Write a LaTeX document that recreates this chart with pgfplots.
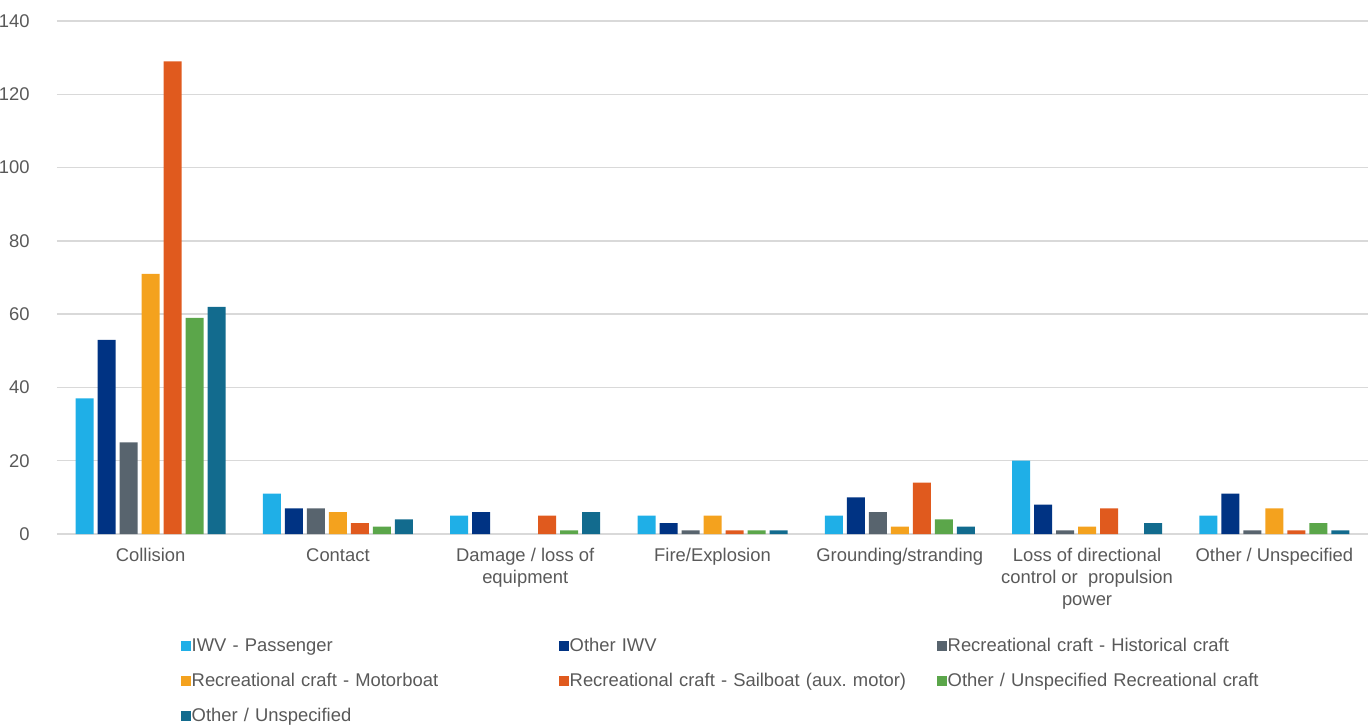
\documentclass[border=0pt]{standalone}
\usepackage{pgfplots}
\pgfplotsset{compat=1.18}
\usepackage{fontspec}
\setmainfont{Liberation Sans}
\frenchspacing
\definecolor{cA}{HTML}{1FAFE7}
\definecolor{cB}{HTML}{003383}
\definecolor{cC}{HTML}{58646E}
\definecolor{cD}{HTML}{F4A21E}
\definecolor{cE}{HTML}{E05A1E}
\definecolor{cF}{HTML}{5BA64A}
\definecolor{cG}{HTML}{126B8E}
\definecolor{txt}{HTML}{595959}
\definecolor{grd}{HTML}{D9D9D9}
\begin{document}
\begin{tikzpicture}
\path[use as bounding box] (-28.5pt,-95.5pt) rectangle (655.5pt,267pt);
\begin{axis}[
  at={(0pt,0pt)}, anchor=south west,
  scale only axis, width=655.5pt, height=256.5pt,
  xmin=-0.5, xmax=6.5, ymin=0, ymax=140,
  ytick={0,20,...,140},
  xtick={0,...,6},
  xticklabels={Collision, Contact, Damage / loss of\\equipment, Fire/Explosion, Grounding/stranding, Loss of directional\\control or\ \ propulsion\\power, Other / Unspecified},
  axis line style={draw=none},
  major tick length=0pt,
  ymajorgrids, grid style={grd, line width=0.75pt},
  font=\fontsize{9.2}{11}\selectfont,
  tick label style={txt, font=\fontsize{9.2}{11}\selectfont},
  /pgf/number format/assume math mode=true,
  yticklabel style={anchor=east, inner sep=0pt, xshift=-13.5pt},
  xticklabel style={anchor=north, inner sep=0pt, yshift=-7pt, align=center},
  ybar=2pt, bar width=9pt,
  every axis plot/.append style={draw=none},
  legend columns=3,
  legend cell align=left,
  legend style={draw=none, fill=none, at={(0.0895,-0.1765)}, anchor=north west,
    font=\fontsize{9.2}{11}\selectfont\frenchspacing, text=txt,
    nodes={text width=183pt, align=left, inner xsep=0.5pt, inner ysep=0pt, minimum height=17.5pt},
    column sep=0pt, row sep=0pt},
  legend image code/.code={\fill[#1] (0pt,-2.5pt) rectangle (5pt,2.5pt);},
]
\addplot[fill=cA] coordinates {(0,37) (1,11) (2,5) (3,5) (4,5) (5,20) (6,5)};
\addplot[fill=cB] coordinates {(0,53) (1,7) (2,6) (3,3) (4,10) (5,8) (6,11)};
\addplot[fill=cC] coordinates {(0,25) (1,7) (3,1) (4,6) (5,1) (6,1)};
\addplot[fill=cD] coordinates {(0,71) (1,6) (3,5) (4,2) (5,2) (6,7)};
\addplot[fill=cE] coordinates {(0,129) (1,3) (2,5) (3,1) (4,14) (5,7) (6,1)};
\addplot[fill=cF] coordinates {(0,59) (1,2) (2,1) (3,1) (4,4) (6,3)};
\addplot[fill=cG] coordinates {(0,62) (1,4) (2,6) (3,1) (4,2) (5,3) (6,1)};
\legend{IWV - Passenger, Other IWV, Recreational craft - Historical craft, Recreational craft - Motorboat, Recreational craft - Sailboat (aux. motor), Other / Unspecified Recreational craft, Other / Unspecified}
\end{axis}
\end{tikzpicture}
\end{document}
